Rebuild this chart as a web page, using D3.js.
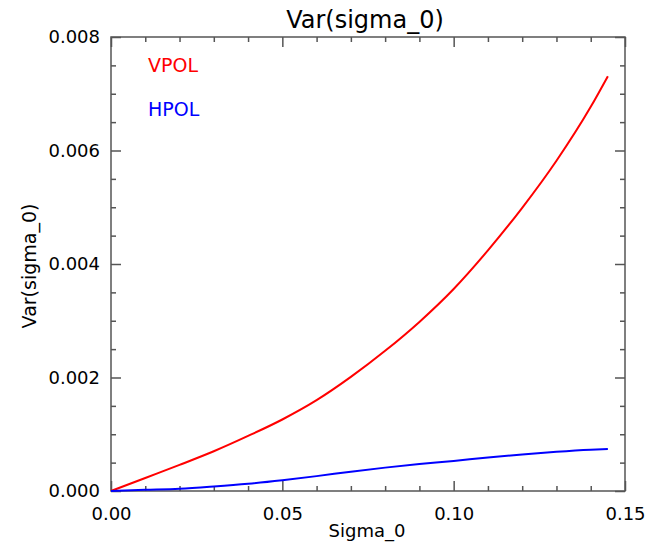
<html>
<head>
	<title>Var(sigma_0)</title>
	<script src="https://cdn.jsdelivr.net/npm/d3@7/dist/d3.min.js" charset="utf-8"></script>
</head>

<style>
body{ margin: 0; background: white; }
text{ font-family: "DejaVu Sans", sans-serif; fill: black; }
.frame{ fill: none; stroke: #555; stroke-width: 1.5px; }
.axis path{ display: none; }
.axis line{ stroke: #555; stroke-width: 1.5px; }
.axis text{ font-size: 18px; }
.curve{ fill: none; stroke-width: 2px; }
</style>

<body>
<script>

// sigma_0 sample points
var sigma0 = [0, 0.01, 0.02, 0.03, 0.04, 0.05, 0.06, 0.07, 0.08, 0.09, 0.10, 0.11, 0.12, 0.13, 0.14, 0.145];
// variance, VPOL
var vpol = [0, 0.00023, 0.00046, 0.00070, 0.00097, 0.00126, 0.00160, 0.00201, 0.00247, 0.00298, 0.00356, 0.00424, 0.00499, 0.00582, 0.00677, 0.00731];
// variance, HPOL
var hpol = [0, 0.00002, 0.00004, 0.00008, 0.000128, 0.00019, 0.000262, 0.00034, 0.000412, 0.000474, 0.00053, 0.000592, 0.000645, 0.000692, 0.000728, 0.00074];

var xTicks = [0, 0.05, 0.10, 0.15];
var xLabels = ["0.00", "0.05", "0.10", "0.15"];
var xMinor = [0.01, 0.02, 0.03, 0.04, 0.06, 0.07, 0.08, 0.09, 0.11, 0.12, 0.13, 0.14];
var yTicks = [0, 0.002, 0.004, 0.006, 0.008];
var yLabels = ["0.000", "0.002", "0.004", "0.006", "0.008"];
var yMinor = [0.0005, 0.001, 0.0015, 0.0025, 0.003, 0.0035, 0.0045, 0.005, 0.0055, 0.0065, 0.007, 0.0075];

var series = [
	{ name: "VPOL", values: vpol, color: "#ff0000" },
	{ name: "HPOL", values: hpol, color: "#0000ff" }
];

var width = 654;
var height = 542;
var plot = { left: 111, right: 625, top: 37, bottom: 491 };

var svg = d3.select("body").append("svg")
			.attr("width", width)
			.attr("height", height);

var x = d3.scaleLinear().domain([0, 0.15]).range([plot.left, plot.right]);
var y = d3.scaleLinear().domain([0, 0.008]).range([plot.bottom, plot.top]);

var h = plot.bottom - plot.top;
var w = plot.right - plot.left;

//坐标轴：刻度向内
function addAxis(axis, tx, ty){
	svg.append("g")
		.attr("class", "axis")
		.attr("transform", "translate(" + tx + "," + ty + ")")
		.call(axis);
}

addAxis(d3.axisBottom(x).tickValues(xTicks).tickSize(-10).tickPadding(16)
	.tickFormat(function(d, i){ return xLabels[i]; }), 0, plot.bottom);
addAxis(d3.axisBottom(x).tickValues(xMinor).tickSize(-5).tickFormat(""), 0, plot.bottom);
addAxis(d3.axisTop(x).tickValues(xTicks).tickSize(-10).tickFormat(""), 0, plot.top);
addAxis(d3.axisTop(x).tickValues(xMinor).tickSize(-5).tickFormat(""), 0, plot.top);

addAxis(d3.axisLeft(y).tickValues(yTicks).tickSize(-10).tickPadding(11)
	.tickFormat(function(d, i){ return yLabels[i]; }), plot.left, 0);
addAxis(d3.axisLeft(y).tickValues(yMinor).tickSize(-5).tickFormat(""), plot.left, 0);
addAxis(d3.axisRight(y).tickValues(yTicks).tickSize(-10).tickFormat(""), plot.right, 0);
addAxis(d3.axisRight(y).tickValues(yMinor).tickSize(-5).tickFormat(""), plot.right, 0);

svg.selectAll(".axis text").attr("fill", "black");

svg.append("rect")
	.attr("class", "frame")
	.attr("x", plot.left)
	.attr("y", plot.top)
	.attr("width", w)
	.attr("height", h);

var line = d3.line()
	.curve(d3.curveMonotoneX)
	.x(function(d, i){ return x(sigma0[i]); })
	.y(function(d){ return y(d); });

svg.selectAll(".curve")
	.data(series)
	.enter().append("path")
	.attr("class", "curve")
	.attr("stroke", function(d){ return d.color; })
	.attr("d", function(d){ return line(d.values); });

//图例
svg.selectAll(".legend")
	.data(series)
	.enter().append("text")
	.attr("class", "legend")
	.attr("x", 148)
	.attr("y", function(d, i){ return 72 + i * 44; })
	.style("font-size", "19px")
	.style("fill", function(d){ return d.color; })
	.text(function(d){ return d.name; });

//标题
svg.append("text")
	.attr("x", 365)
	.attr("y", 28)
	.attr("text-anchor", "middle")
	.style("font-size", "24px")
	.text("Var(sigma_0)");

svg.append("text")
	.attr("x", 367)
	.attr("y", 537)
	.attr("text-anchor", "middle")
	.style("font-size", "18px")
	.text("Sigma_0");

svg.append("text")
	.attr("transform", "translate(36," + 266 + ") rotate(-90)")
	.attr("text-anchor", "middle")
	.style("font-size", "19px")
	.text("Var(sigma_0)");

</script>
</body>
</html>
